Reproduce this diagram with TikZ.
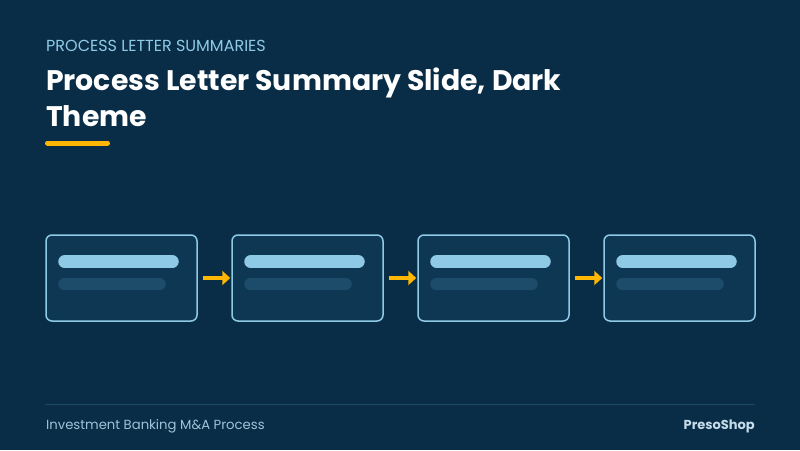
\documentclass[tikz,border=0pt]{standalone}
\usepackage{fontspec}
\setmainfont{Poppins}
\usetikzlibrary{arrows.meta}
\definecolor{navy}{HTML}{0A2D47}
\definecolor{cardfill}{HTML}{0E3754}
\definecolor{skyline}{HTML}{8ECAE6}
\definecolor{dimbar}{HTML}{1D4C6B}
\definecolor{amber}{HTML}{FFB703}
\definecolor{rulecol}{HTML}{1E4A66}
\definecolor{foottext}{HTML}{9CC3DA}
\tikzset{
  card/.style={draw=skyline,line width=1.5pt,fill=cardfill,rounded corners=6pt,minimum width=151pt,minimum height=86pt,inner sep=0pt},
  flow/.style={amber,line width=3.5pt,-{Triangle[length=8pt,width=14pt]},shorten <=5pt,shorten >=1pt}
}
\begin{document}
\begin{tikzpicture}[x=1pt,y=-1pt]
\fill[navy] (0,0) rectangle (800,450);
\useasboundingbox (0,0) rectangle (800,450);
% heading
\node[anchor=base west,inner sep=0pt,text=skyline,font=\fontsize{16}{18}\selectfont] (kicker) at (46,51) {PROCESS LETTER SUMMARIES};
\node[anchor=base west,inner sep=0pt,text=white,font=\fontsize{28.3}{36}\selectfont\bfseries,align=left] (title) at (46,126) {Process Letter Summary Slide, Dark\\Theme};
\draw[amber,line width=5pt,line cap=round] (47.5,143)--(107.5,143);
% cards
\foreach \i in {1,...,4}{
  \node[card] (s\i) at (121.5+186*\i-186,278) {};
  \draw[skyline,line width=13pt,line cap=round] ([xshift=19.5pt,yshift=-27.5pt]s\i.north west)--([xshift=-25.5pt,yshift=-27.5pt]s\i.north east);
  \draw[dimbar,line width=12pt,line cap=round] ([xshift=19pt,yshift=-50pt]s\i.north west)--([xshift=-38pt,yshift=-50pt]s\i.north east);
}
\draw[flow] (s1)--(s2);
\draw[flow] (s2)--(s3);
\draw[flow] (s3)--(s4);
% footer
\draw[rulecol,line width=1pt] (45,404)--(755,404);
\node[anchor=base west,inner sep=0pt,text=foottext,font=\fontsize{13.2}{15}\selectfont] (foot) at (46,429) {Investment Banking M\&A Process};
\node[anchor=base east,inner sep=0pt,text=foottext!60!white,font=\fontsize{13}{15}\selectfont\bfseries] (brand) at (755,429) {PresoShop};
\end{tikzpicture}
\end{document}
